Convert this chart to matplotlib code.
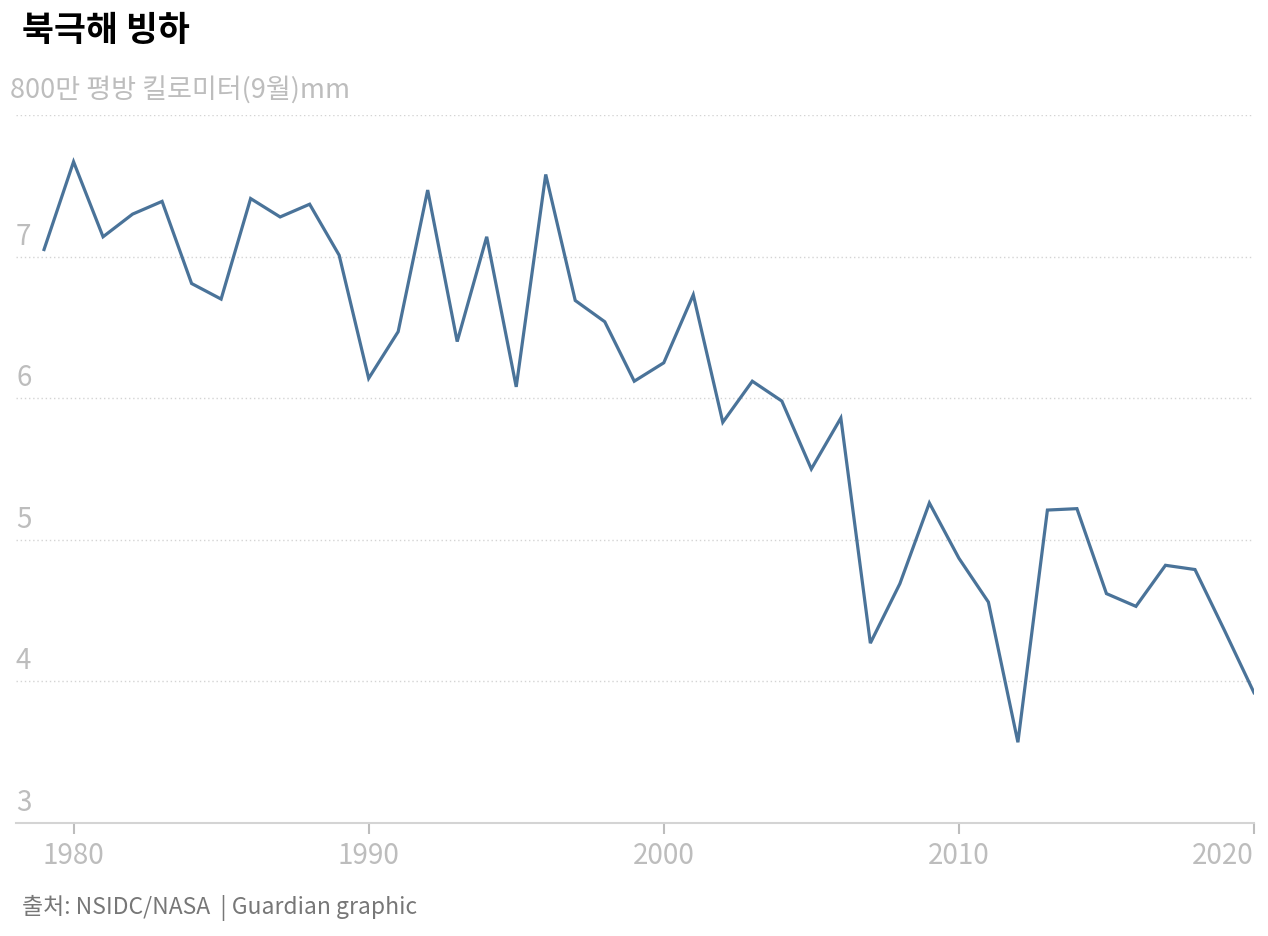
import matplotlib
matplotlib.use('Agg')
import matplotlib.pyplot as plt

plt.rcParams['font.family'] = ['Noto Sans CJK KR', 'DejaVu Sans']

# September Arctic sea ice extent, million km2
years = list(range(1979, 2021))
extent = [7.05, 7.67, 7.14, 7.30, 7.39, 6.81, 6.70, 7.41, 7.28, 7.37,
          7.01, 6.14, 6.47, 7.47, 6.40, 7.14, 6.08, 7.58, 6.69, 6.54,
          6.12, 6.25, 6.73, 5.83, 6.12, 5.98, 5.50, 5.86, 4.27, 4.69,
          5.26, 4.87, 4.56, 3.57, 5.21, 5.22, 4.62, 4.53, 4.82, 4.79,
          4.36, 3.92]
y_ticks = [3, 4, 5, 6, 7, 8]
y_labels = ['3', '4', '5', '6', '7', '800만 평방 킬로미터(9월)mm']
x_ticks = [1980, 1990, 2000, 2010, 2020]

LINE = '#4a7399'
TICK = '#bdbdbd'
GRID = '#d4d4d4'

W, H = 1268, 936
fig = plt.figure(figsize=(W / 100, H / 100), dpi=100)
fig.patch.set_facecolor('white')
ax = fig.add_axes([16 / W, 1 - 823 / H, (1254 - 16) / W, (823 - 115) / H])

ax.plot(years, extent, color=LINE, linewidth=2.3, solid_joinstyle='miter')
ax.set_xlim(1978.05, 2020)
ax.set_ylim(3, 8)

for s in ['top', 'left', 'right']:
    ax.spines[s].set_visible(False)
ax.spines['bottom'].set_color(GRID)
ax.spines['bottom'].set_linewidth(1.5)

for t in y_ticks[1:]:
    ax.axhline(t, color=GRID, linewidth=1, linestyle=(0, (1, 2)), zorder=0)

ax.set_yticks([])
for t, lab in zip(y_ticks, y_labels):
    top = t == 8
    ax.annotate(lab, xy=(0, t), xycoords=('axes fraction', 'data'),
                xytext=(-6 if top else 0, 24 if top else 20), textcoords='offset pixels',
                ha='left', va='center', fontsize=19.5 if top else 20,
                color=TICK)

ax.set_xticks(x_ticks)
ax.set_xticklabels([str(x) for x in x_ticks])
ax.tick_params(axis='x', colors=TICK, length=8, width=1.5, labelsize=20, pad=5)
for lab in ax.get_xticklabels():
    lab.set_color(TICK)
ax.get_xticklabels()[-1].set_ha('right')

fig.text(22 / W, 1 - 30 / H, '북극해 빙하', fontsize=25, fontweight='bold',
         color='black', ha='left', va='center')
fig.text(22 / W, 1 - 908 / H, '출처: NSIDC/NASA  | Guardian graphic', fontsize=16.5,
         color='#777777', ha='left', va='center')

fig.savefig('out.png', dpi=100, facecolor='white')
